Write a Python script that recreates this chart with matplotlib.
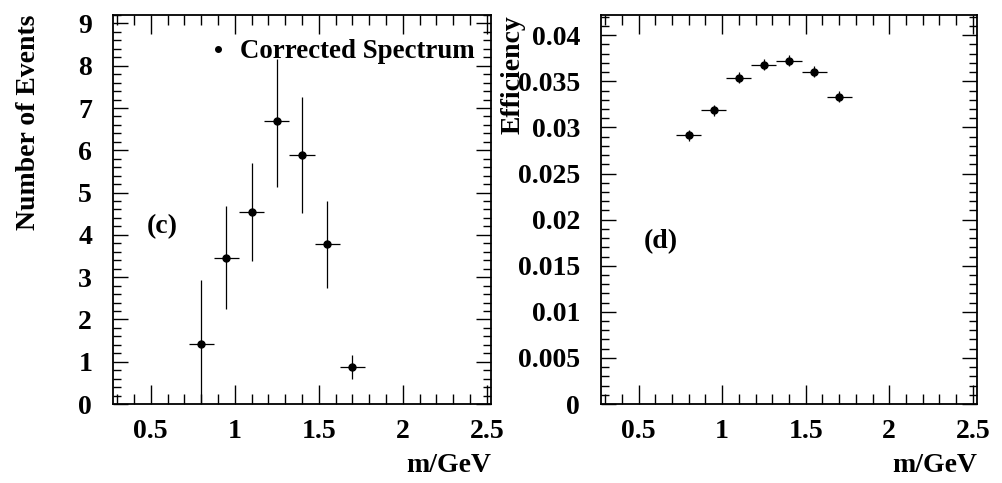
import numpy as np
import matplotlib
matplotlib.use("Agg")
import matplotlib.pyplot as plt
from matplotlib.lines import Line2D
from matplotlib.ticker import MultipleLocator, FormatStrFormatter

plt.rcParams['font.family'] = ['Liberation Serif', 'DejaVu Serif']
plt.rcParams['font.weight'] = 'bold'
plt.rcParams['axes.labelweight'] = 'bold'
plt.rcParams['font.size'] = 20

# bin centres (m/GeV), half bin width 0.075
mass = np.array([0.80, 0.95, 1.10, 1.25, 1.40, 1.55, 1.70])
mass_err = np.array([0.075, 0.075, 0.075, 0.075, 0.075, 0.075, 0.075])

# (c) corrected spectrum
events = np.array([1.42, 3.46, 4.55, 6.70, 5.90, 3.78, 0.88])
events_lo = np.array([1.60, 1.22, 1.16, 1.57, 1.39, 1.03, 0.29])
events_hi = np.array([1.52, 1.23, 1.16, 1.47, 1.37, 1.03, 0.28])

# (d) efficiency
eff = np.array([0.02915, 0.03189, 0.03539, 0.03679, 0.03722, 0.03603, 0.03333])
eff_err = np.array([0.0006, 0.0006, 0.0006, 0.0006, 0.0006, 0.0006, 0.0006])

fig = plt.figure(figsize=(10.03, 4.83), dpi=100)
ax1 = fig.add_axes([113/1003, 1-404/483, 378/1003, 389/483])
ax2 = fig.add_axes([601/1003, 1-404/483, 376/1003, 389/483])


def style(ax):
    ax.set_xlim(0.275, 2.525)
    ax.xaxis.set_major_locator(MultipleLocator(0.5))
    ax.xaxis.set_minor_locator(MultipleLocator(0.1))
    ax.xaxis.set_major_formatter(FormatStrFormatter('%g'))
    ax.tick_params(axis='both', which='both', direction='in', top=True, right=True, width=1)
    ax.tick_params(axis='x', which='major', length=14, pad=11)
    ax.tick_params(axis='x', which='minor', length=7)
    ax.tick_params(axis='y', which='major', length=11, pad=15)
    ax.tick_params(axis='y', which='minor', length=6)
    for s in ax.spines.values():
        s.set_linewidth(1.3)
    ax.set_xlabel('m/GeV', loc='right', labelpad=6)


style(ax1)
ax1.errorbar(mass, events, xerr=mass_err, yerr=[events_lo, events_hi], fmt='o', color='black',
             ms=5, elinewidth=0.9, capsize=0)
ax1.set_ylim(0, 9.2)
ax1.yaxis.set_major_locator(MultipleLocator(1))
ax1.yaxis.set_minor_locator(MultipleLocator(0.2))
ax1.set_ylabel('Number of Events', loc='top')
ax1.yaxis.set_label_coords(-0.19, 1.0)
ax1.text(0.567, 4.2, '(c)', ha='center', va='center')
proxy = Line2D([], [], marker='o', ls='none', color='black', ms=4)
ax1.legend([proxy], ['Corrected Spectrum'], loc='upper right', bbox_to_anchor=(0.985, 0.965),
           frameon=False, handlelength=0.6, handletextpad=0.5, borderaxespad=0, fontsize=19.4)

style(ax2)
ax2.errorbar(mass, eff, xerr=mass_err, yerr=eff_err, fmt='o', color='black',
             ms=5, elinewidth=0.9, capsize=0)
ax2.set_ylim(0, 0.0422)
ax2.yaxis.set_major_locator(MultipleLocator(0.005))
ax2.yaxis.set_minor_locator(MultipleLocator(0.001))
ax2.yaxis.set_major_formatter(FormatStrFormatter('%g'))
ax2.set_ylabel('Efficiency', loc='top')
ax2.yaxis.set_label_coords(-0.2, 1.0)
ax2.text(0.63, 0.0176, '(d)', ha='center', va='center')

fig.savefig('out.png', dpi=100)
